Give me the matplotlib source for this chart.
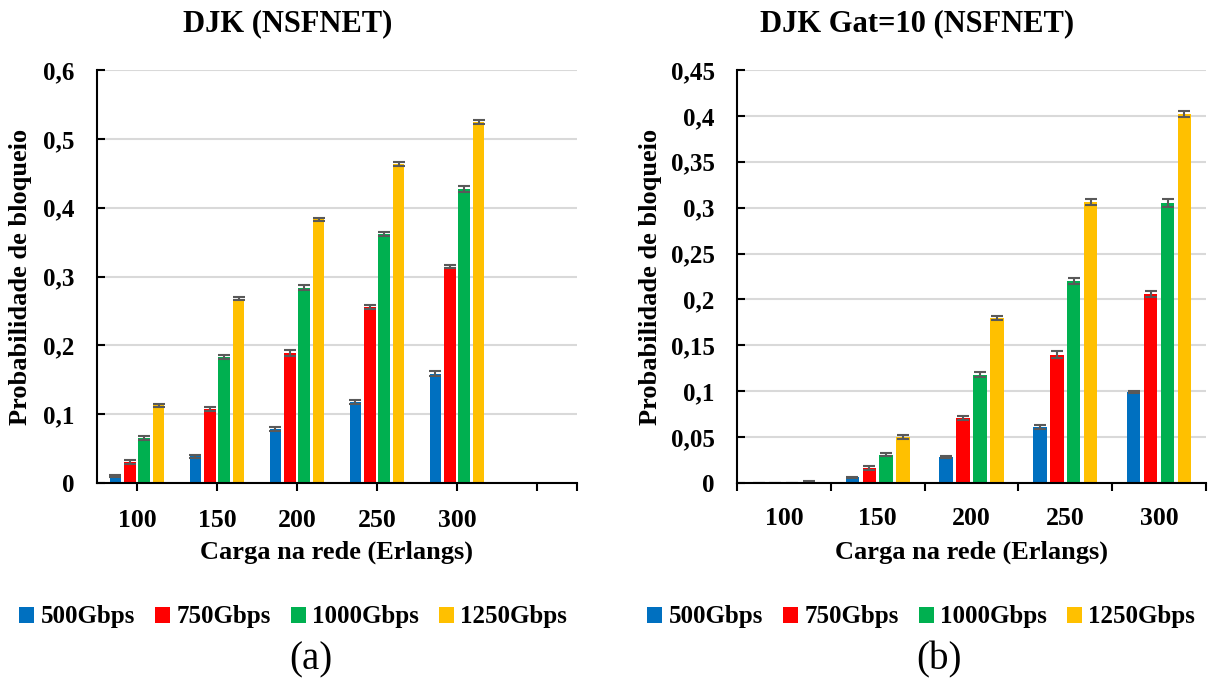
import matplotlib
matplotlib.use("Agg")
import matplotlib.pyplot as plt
import numpy as np

FAM = ['Liberation Serif', 'DejaVu Serif']
plt.rcParams['font.family'] = 'serif'
plt.rcParams['font.serif'] = FAM

categories = ["100", "150", "200", "250", "300"]
series_names = ["500Gbps", "750Gbps", "1000Gbps", "1250Gbps"]
colors = ["#0070C0", "#FF0000", "#00B050", "#FFC000"]

# Panel (a): DJK (NSFNET)
a_500 = [0.010, 0.039, 0.079, 0.118, 0.159]
a_750 = [0.031, 0.107, 0.189, 0.256, 0.314]
a_1000 = [0.065, 0.183, 0.284, 0.362, 0.427]
a_1250 = [0.113, 0.268, 0.383, 0.463, 0.524]
a_err_500 = [0.002, 0.002, 0.003, 0.003, 0.003]
a_err_750 = [0.003, 0.003, 0.004, 0.003, 0.002]
a_err_1000 = [0.003, 0.003, 0.004, 0.003, 0.004]
a_err_1250 = [0.002, 0.002, 0.002, 0.003, 0.003]

# Panel (b): DJK Gat=10 (NSFNET)
b_500 = [0.000, 0.006, 0.028, 0.061, 0.099]
b_750 = [0.000, 0.016, 0.071, 0.140, 0.206]
b_1000 = [0.000, 0.031, 0.118, 0.220, 0.305]
b_1250 = [0.001, 0.050, 0.180, 0.306, 0.402]
b_err_500 = [0.000, 0.001, 0.001, 0.002, 0.001]
b_err_750 = [0.000, 0.002, 0.002, 0.004, 0.003]
b_err_1000 = [0.000, 0.002, 0.003, 0.003, 0.004]
b_err_1250 = [0.001, 0.002, 0.002, 0.003, 0.003]

a_yticks = [0, 0.1, 0.2, 0.3, 0.4, 0.5, 0.6]
a_yticklabels = ["0", "0,1", "0,2", "0,3", "0,4", "0,5", "0,6"]
b_yticks = [0, 0.05, 0.1, 0.15, 0.2, 0.25, 0.3, 0.35, 0.4, 0.45]
b_yticklabels = ["0", "0,05", "0,1", "0,15", "0,2", "0,25", "0,3", "0,35", "0,4", "0,45"]

W, H = 1210, 681
fig = plt.figure(figsize=(W / 100, H / 100), dpi=100)

def fx(px):
    return px / W

def fy(py):
    return 1 - py / H

FS_TICK = 18
FS_CAT = 18.5
FS_LAB = 19
FS_TITLE = 22
FS_LEG = 18

axA = fig.add_axes([fx(97), fy(483), fx(577) - fx(97), fy(70) - fy(483)])
axB = fig.add_axes([fx(737), fy(483), fx(1206) - fx(737), fy(70) - fy(483)])

bar_w = 0.143
step = 0.18

def draw(ax, data, errs, yticks, ylabels, xlim, major, major_labels, minor):
    x = np.arange(len(categories))
    for i, (vals, e) in enumerate(zip(data, errs)):
        off = (i - 1.5) * step
        ax.bar(x + off, vals, width=bar_w, color=colors[i], label=series_names[i],
               zorder=3, yerr=e, error_kw=dict(ecolor="#595959", elinewidth=1.5,
                                               capsize=4, capthick=1.5, zorder=4))
    ax.set_ylim(yticks[0], yticks[-1])
    ax.set_yticks(yticks)
    ax.set_yticklabels(ylabels, fontsize=FS_TICK, fontweight='bold', family=FAM)
    ax.set_xlim(*xlim)
    ax.set_xticks(major)
    ax.set_xticklabels(major_labels, fontsize=FS_CAT, fontweight='bold', family=FAM)
    ax.set_xticks(minor, minor=True)
    ax.set_xticklabels([], minor=True)
    ax.tick_params(axis='x', which='both', direction='out', length=6, width=1.5, pad=13)
    ax.tick_params(axis='y', direction='in', length=6, width=1.5, pad=16)
    for s in ['top', 'right']:
        ax.spines[s].set_visible(False)
    for s in ['left', 'bottom']:
        ax.spines[s].set_linewidth(1.5)
        ax.spines[s].set_zorder(5)
    ax.yaxis.grid(True, color="#D9D9D9", linewidth=1.5, zorder=0)
    ax.set_axisbelow(True)

draw(axA, [a_500, a_750, a_1000, a_1250],
     [a_err_500, a_err_750, a_err_1000, a_err_1250],
     a_yticks, a_yticklabels, (-0.5, 5.5),
     [0, 1, 2, 3, 4, 5], categories + [""], [5.5])
draw(axB, [b_500, b_750, b_1000, b_1250],
     [b_err_500, b_err_750, b_err_1000, b_err_1250],
     b_yticks, b_yticklabels, (-0.5, 4.5),
     [0, 1, 2, 3, 4], categories, [-0.5, 0.5, 1.5, 2.5, 3.5, 4.5])
axB.tick_params(axis='x', which='major', length=0, pad=17)

# titles
fig.text(fx(288), fy(24), "DJK (NSFNET)", ha='center', va='center', fontsize=FS_TITLE, fontweight='bold', family=FAM)
fig.text(fx(917), fy(24), "DJK Gat=10 (NSFNET)", ha='center', va='center', fontsize=FS_TITLE, fontweight='bold', family=FAM)

# x labels
fig.text(fx(336), fy(552), "Carga na rede (Erlangs)", ha='center', va='center', fontsize=FS_LAB, fontweight='bold', family=FAM)
fig.text(fx(972), fy(552), "Carga na rede (Erlangs)", ha='center', va='center', fontsize=FS_LAB, fontweight='bold', family=FAM)

# y labels
fig.text(fx(21), fy(277), "Probabilidade de bloqueio", ha='center', va='center', rotation=90, fontsize=FS_LAB, fontweight='bold', family=FAM)
fig.text(fx(651), fy(277), "Probabilidade de bloqueio", ha='center', va='center', rotation=90, fontsize=FS_LAB, fontweight='bold', family=FAM)

# legends
for ax, cx in [(axA, 293), (axB, 921)]:
    h, l = ax.get_legend_handles_labels()
    fig.legend(h, l, loc='center', bbox_to_anchor=(fx(cx), fy(617)), ncol=4, frameon=False,
               prop=dict(size=FS_LEG, weight='bold', family=FAM), handlelength=0.6, handleheight=0.6,
               handletextpad=0.25, columnspacing=0.8, borderaxespad=0)

fig.text(fx(311), fy(660), "(a)", ha='center', va='center', fontsize=28, family=FAM)
fig.text(fx(939), fy(660), "(b)", ha='center', va='center', fontsize=28, family=FAM)

fig.savefig("out.png", dpi=100)
